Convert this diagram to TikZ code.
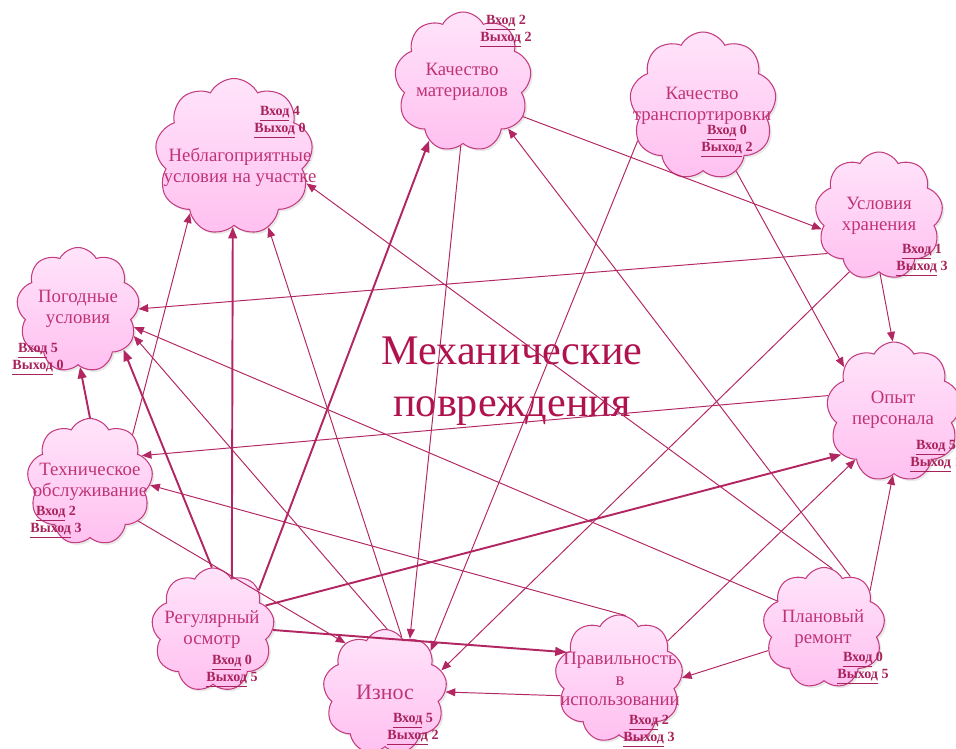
\documentclass[tikz,border=0pt]{standalone}
\usepackage{fontspec}
\setmainfont{Liberation Serif}
\usetikzlibrary{shapes.symbols, arrows.meta, shadows}

\definecolor{lnc}{RGB}{178,38,98}
\definecolor{txc}{RGB}{192,52,118}
\definecolor{ioc}{RGB}{168,34,92}
\definecolor{ttl}{RGB}{176,18,78}
\definecolor{cldtop}{RGB}{255,228,250}
\definecolor{cldbot}{RGB}{255,192,240}
\definecolor{cldline}{RGB}{196,60,128}

\tikzset{
    cld/.style={cloud, cloud puffs=9, cloud puff arc=125, aspect=1, inner sep=0pt,
        draw=cldline, line width=0.6pt, top color=cldtop, bottom color=cldbot,
        drop shadow={opacity=0.18, shadow xshift=1.2pt, shadow yshift=-1.2pt}},
    txt/.style={text=txc, align=center, inner sep=0pt, font=\fontsize{10.7}{11.9}\selectfont},
    io/.style={text=ioc, align=center, inner sep=0pt, font=\fontsize{8}{9.6}\selectfont\bfseries},
    lnk/.style={draw=lnc, line width=0.55pt, -{Triangle[length=5.5pt, width=4.5pt]}},
    lnkb/.style={lnk, line width=1.1pt, -{Triangle[length=6.5pt, width=5pt]}}
}

\begin{document}
\begin{tikzpicture}[x=0.02cm, y=-0.02cm]
        \useasboundingbox (0,0) rectangle (956,749);

        % clouds
        \node[cld, minimum width=2.74cm, minimum height=2.8cm] (km) at (463,82) {};
        \node[cld, minimum width=3.16cm, minimum height=3.14cm] (nu) at (234,157) {};
        \node[cld, minimum width=2.94cm, minimum height=2.96cm] (kt) at (703,106) {};
        \node[cld, minimum width=2.56cm, minimum height=2.56cm] (uh) at (879,216) {};
        \node[cld, minimum width=2.46cm, minimum height=2.5cm] (pu) at (78,310) {};
        \node[cld, minimum width=2.7cm, minimum height=2.8cm] (op) at (894,412) {};
        \node[cld, minimum width=2.52cm, minimum height=2.54cm] (to) at (90,482) {};
        \node[cld, minimum width=2.46cm, minimum height=2.48cm] (ro) at (213,630) {};
        \node[cld, minimum width=2.48cm, minimum height=2.5cm] (iz) at (385,692) {};
        \node[cld, minimum width=2.56cm, minimum height=2.56cm] (pi) at (619,679) {};
        \node[cld, minimum width=2.44cm, minimum height=2.42cm] (pr) at (824,628) {};

        % texts
        \node[txt] (km-t) at (462,82) {Качество\\материалов};
        \node[io] (km-io) at (506,31) {\underline{Вход} 2\\\underline{Выход} 2};
        \node[txt] (nu-t) at (240,167) {Неблагоприятные\\условия на участке};
        \node[io] (nu-io) at (280,122) {\underline{Вход} 4\\\underline{Выход} 0};
        \node[txt] (kt-t) at (702,106) {Качество\\транспортировки};
        \node[io] (kt-io) at (727,141) {\underline{Вход} 0\\\underline{Выход} 2};
        \node[txt] (uh-t) at (879,216) {Условия\\хранения};
        \node[io] (uh-io) at (922,260) {\underline{Вход} 1\\\underline{Выход} 3};
        \node[txt] (pu-t) at (78,309) {Погодные\\условия};
        \node[io] (pu-io) at (38,359) {\underline{Вход} 5\\\underline{Выход} 0};
        \node[txt] (op-t) at (893,410) {Опыт\\персонала};
        \node[io] (op-io) at (936,456) {\underline{Вход} 5\\\underline{Выход} 1};
        \node[txt] (to-t) at (90,482) {Техническое\\обслуживание};
        \node[io] (to-io) at (56,522) {\underline{Вход} 2\\\underline{Выход} 3};
        \node[txt] (ro-t) at (212,630) {Регулярный\\осмотр};
        \node[io] (ro-io) at (232,671) {\underline{Вход} 0\\\underline{Выход} 5};
        \node[txt, font=\fontsize{12.5}{14}\selectfont] (iz-t) at (385,692) {Износ};
        \node[io] (iz-io) at (413,729) {\underline{Вход} 5\\\underline{Выход} 2};
        \node[txt] (pi-t) at (620,679) {Правильность\\в\\использовании};
        \node[io] (pi-io) at (649,731) {\underline{Вход} 2\\\underline{Выход} 3};
        \node[txt] (pr-t) at (823,629) {Плановый\\ремонт};
        \node[io] (pr-io) at (863,668) {\underline{Вход} 0\\\underline{Выход} 5};

        \node[text=ttl, align=center, font=\fontsize{24}{29.5}\selectfont] (title) at (512,381) {Механические\\повреждения};

        % links
        \draw[lnk] (km.-30) -- (uh.-167);
        \draw[lnk] (km.-92) -- (iz.65);
        \draw[lnk] (kt.-63) -- (op.138);
        \draw[lnk] (kt.208) -- (iz.42);
        \draw[lnk] (uh.-144) -- (pu.1);
        \draw[lnk] (uh.-118) -- (iz.21);
        \draw[lnk] (uh.-89) -- (op.91);
        \draw[lnk] (op.166) -- (to.27);
        \draw[lnkb] (to.90) -- (pu.-88);
        \draw[lnk] (to.48) -- (nu.-128);
        \draw[lnk] (to.-39) -- (iz.129);
        \draw[lnkb] (ro.91) -- (pu.-41);
        \draw[lnkb] (ro.70) -- (nu.-91);
        \draw[lnkb] (ro.41) -- (km.-120);
        \draw[lnkb] (ro.25) -- (op.-141);
        \draw[lnkb] (ro.0) -- (pi.153);
        \draw[lnk] (iz.73) -- (nu.-64);
        \draw[lnk] (iz.88) -- (pu.-25);
        \draw[lnk] (pi.38) -- (op.-129);
        \draw[lnk] (pi.-164) -- (iz.0);
        \draw[lnk] (pi.84) -- (to.-3);
        \draw[lnk] (pr.82) -- (nu.-20);
        \draw[lnk] (pr.63) -- (km.-46);
        \draw[lnk] (pr.150) -- (pu.-17);
        \draw[lnk] (pr.39) -- (op.-91);
        \draw[lnk] (pr.-158) -- (pi.1);
\end{tikzpicture}
\end{document}
